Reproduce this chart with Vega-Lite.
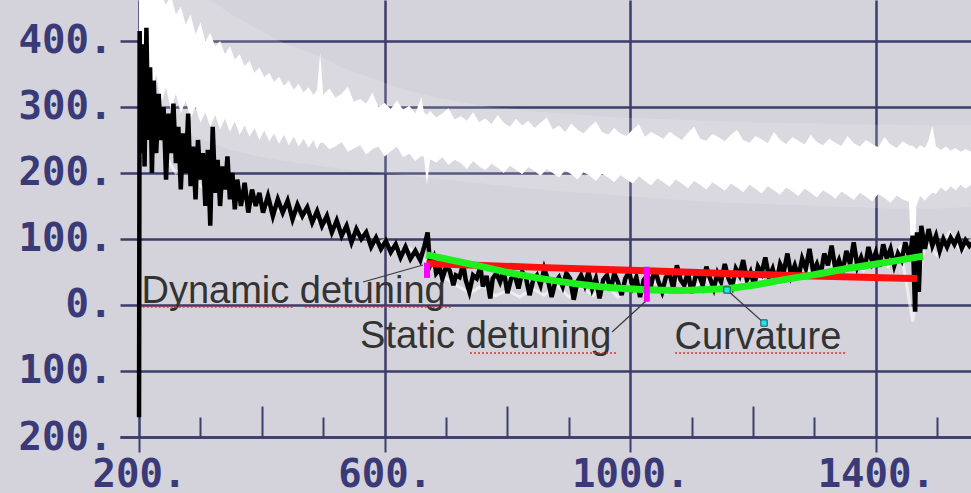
{
  "$schema": "https://vega.github.io/schema/vega-lite/v6.json",
  "width": 851,
  "height": 437,
  "autosize": {"type": "none"},
  "padding": {"left": 120, "top": 0, "right": 0, "bottom": 56},
  "background": "#d4d3db",
  "config": {"view": {"stroke": null, "fill": "#d4d3db"}},
  "datasets": {
    "env": [
      {"x":200,"v":330,"v2":470},{"x":230,"v":300,"v2":470},{"x":260,"v":270,"v2":470},{"x":290,"v":255,"v2":470},{"x":320,"v":245,"v2":460},{"x":350,"v":235,"v2":440},{"x":380,"v":228,"v2":425},{"x":410,"v":222,"v2":410},{"x":440,"v":218,"v2":395},{"x":470,"v":214,"v2":385},{"x":500,"v":210,"v2":375},{"x":530,"v":206,"v2":360},{"x":560,"v":203,"v2":350},{"x":590,"v":200,"v2":340},{"x":620,"v":198,"v2":330},{"x":650,"v":195,"v2":322},{"x":680,"v":192,"v2":315},{"x":710,"v":189,"v2":310},{"x":740,"v":186,"v2":305},{"x":770,"v":183,"v2":300},{"x":800,"v":180,"v2":298},{"x":830,"v":177,"v2":295},{"x":860,"v":175,"v2":292},{"x":890,"v":172,"v2":290},{"x":920,"v":170,"v2":288},{"x":950,"v":168,"v2":286},{"x":980,"v":166,"v2":284},{"x":1010,"v":164,"v2":283},{"x":1040,"v":162,"v2":282},{"x":1070,"v":160,"v2":281},{"x":1100,"v":158,"v2":280},{"x":1130,"v":156,"v2":279},{"x":1160,"v":155,"v2":278},{"x":1190,"v":154,"v2":277},{"x":1220,"v":153,"v2":276},{"x":1250,"v":152,"v2":276},{"x":1280,"v":151,"v2":275},{"x":1310,"v":150,"v2":275},{"x":1340,"v":149,"v2":274},{"x":1370,"v":148,"v2":274},{"x":1400,"v":147,"v2":273},{"x":1430,"v":146,"v2":273},{"x":1460,"v":146,"v2":272},{"x":1490,"v":146,"v2":272},{"x":1520,"v":147,"v2":272},{"x":1555,"v":148,"v2":272}
    ],
    "band": [
      {"x":200,"v":395,"v2":470},{"x":205,"v":340,"v2":470},{"x":212,"v":370,"v2":470},{"x":220,"v":320,"v2":470},{"x":228,"v":350,"v2":470},{"x":236,"v":305,"v2":470},{"x":244,"v":330,"v2":455},{"x":252,"v":295,"v2":470},{"x":260,"v":320,"v2":440},{"x":268,"v":290,"v2":452},{"x":276,"v":310,"v2":425},{"x":284,"v":282,"v2":440},{"x":292,"v":300,"v2":410},{"x":300,"v":276,"v2":428},{"x":308,"v":292,"v2":400},{"x":316,"v":270,"v2":412},{"x":324,"v":288,"v2":392},{"x":332,"v":266,"v2":400},{"x":340,"v":282,"v2":380},{"x":348,"v":262,"v2":392},{"x":356,"v":278,"v2":372},{"x":364,"v":258,"v2":380},{"x":372,"v":272,"v2":362},{"x":380,"v":255,"v2":370},{"x":388,"v":268,"v2":352},{"x":396,"v":250,"v2":360},{"x":404,"v":264,"v2":345},{"x":412,"v":248,"v2":352},{"x":420,"v":260,"v2":338},{"x":428,"v":244,"v2":346},{"x":436,"v":258,"v2":332},{"x":444,"v":242,"v2":340},{"x":452,"v":255,"v2":326},{"x":460,"v":240,"v2":335},{"x":468,"v":252,"v2":322},{"x":476,"v":238,"v2":330},{"x":484,"v":250,"v2":318},{"x":490,"v":236,"v2":326},{"x":495,"v":246,"v2":382},
      {"x":500,"v":246,"v2":318},{"x":510,"v":236,"v2":328},{"x":520,"v":240,"v2":314},{"x":530,"v":247,"v2":320},{"x":540,"v":232,"v2":331},{"x":550,"v":237,"v2":308},{"x":560,"v":242,"v2":312},{"x":570,"v":228,"v2":305},{"x":580,"v":236,"v2":322},{"x":590,"v":240,"v2":300},{"x":600,"v":225,"v2":306},{"x":610,"v":233,"v2":297},{"x":620,"v":240,"v2":310},{"x":630,"v":224,"v2":296},{"x":640,"v":229,"v2":302},{"x":650,"v":218,"v2":290},{"x":660,"v":226,"v2":315},{"x":664,"v":224,"v2":292},{"x":669,"v":182,"v2":288},{"x":674,"v":221,"v2":294},{"x":684,"v":216,"v2":284},{"x":694,"v":224,"v2":290},{"x":704,"v":212,"v2":298},{"x":714,"v":220,"v2":281},{"x":724,"v":215,"v2":286},{"x":734,"v":206,"v2":279},{"x":744,"v":218,"v2":292},{"x":754,"v":210,"v2":277},{"x":764,"v":204,"v2":283},{"x":774,"v":214,"v2":274},{"x":784,"v":208,"v2":288},{"x":794,"v":200,"v2":276},{"x":804,"v":211,"v2":270},{"x":814,"v":205,"v2":282},{"x":824,"v":198,"v2":272},{"x":834,"v":209,"v2":279},{"x":844,"v":203,"v2":268},{"x":854,"v":196,"v2":276},{"x":864,"v":206,"v2":284},{"x":874,"v":200,"v2":266},{"x":884,"v":193,"v2":272},{"x":894,"v":204,"v2":262},{"x":904,"v":198,"v2":275},{"x":914,"v":190,"v2":266},{"x":924,"v":201,"v2":260},{"x":934,"v":196,"v2":270},{"x":944,"v":188,"v2":278},{"x":954,"v":199,"v2":262},{"x":964,"v":193,"v2":258},{"x":974,"v":186,"v2":268},{"x":984,"v":197,"v2":260},{"x":994,"v":190,"v2":256},{"x":1004,"v":184,"v2":266},{"x":1014,"v":195,"v2":274},{"x":1024,"v":188,"v2":255},{"x":1034,"v":181,"v2":262},{"x":1044,"v":192,"v2":257},{"x":1054,"v":186,"v2":252},{"x":1064,"v":179,"v2":263},{"x":1074,"v":190,"v2":256},{"x":1084,"v":184,"v2":250},{"x":1094,"v":177,"v2":261},{"x":1104,"v":188,"v2":270},{"x":1114,"v":182,"v2":252},{"x":1124,"v":175,"v2":249},{"x":1134,"v":186,"v2":259},{"x":1144,"v":180,"v2":254},{"x":1154,"v":173,"v2":248},{"x":1164,"v":184,"v2":258},{"x":1174,"v":178,"v2":265},{"x":1184,"v":171,"v2":250},{"x":1194,"v":182,"v2":246},{"x":1204,"v":176,"v2":256},{"x":1214,"v":169,"v2":251},{"x":1224,"v":180,"v2":245},{"x":1234,"v":174,"v2":262},{"x":1244,"v":167,"v2":250},{"x":1254,"v":178,"v2":244},{"x":1264,"v":172,"v2":254},{"x":1274,"v":165,"v2":249},{"x":1284,"v":176,"v2":243},{"x":1294,"v":170,"v2":258},{"x":1304,"v":163,"v2":247},{"x":1314,"v":174,"v2":242},{"x":1324,"v":168,"v2":252},{"x":1334,"v":161,"v2":246},{"x":1344,"v":172,"v2":241},{"x":1354,"v":166,"v2":256},{"x":1364,"v":159,"v2":245},{"x":1374,"v":170,"v2":240},{"x":1384,"v":164,"v2":250},{"x":1394,"v":157,"v2":244},{"x":1404,"v":168,"v2":239},{"x":1414,"v":162,"v2":254},{"x":1424,"v":155,"v2":243},{"x":1434,"v":166,"v2":238},{"x":1444,"v":160,"v2":248},{"x":1454,"v":156,"v2":242},
      {"x":1462,"v":-15,"v2":240},{"x":1466,"v":150,"v2":236},{"x":1472,"v":165,"v2":242},{"x":1480,"v":158,"v2":238},{"x":1486,"v":165,"v2":250},{"x":1492,"v":170,"v2":272},{"x":1498,"v":168,"v2":240},{"x":1506,"v":178,"v2":235},{"x":1514,"v":172,"v2":240},{"x":1522,"v":180,"v2":234},{"x":1530,"v":174,"v2":238},{"x":1538,"v":182,"v2":232},{"x":1546,"v":176,"v2":236},{"x":1555,"v":182,"v2":232}
    ],
    "fringe": [
      {"x":240,"v":230},{"x":260,"v":200},{"x":280,"v":215},{"x":300,"v":180},{"x":320,"v":170},{"x":340,"v":185},{"x":360,"v":160},{"x":380,"v":150},{"x":400,"v":158},{"x":420,"v":140},{"x":440,"v":148},{"x":460,"v":130},{"x":480,"v":138},{"x":500,"v":118},{"x":520,"v":125},{"x":540,"v":105},{"x":560,"v":112},{"x":580,"v":92},{"x":600,"v":98},{"x":620,"v":80},{"x":640,"v":86},{"x":660,"v":72},{"x":680,"v":55},{"x":700,"v":40},{"x":720,"v":28},{"x":740,"v":18},{"x":760,"v":30},{"x":780,"v":14},{"x":800,"v":22},{"x":820,"v":12},{"x":840,"v":25},{"x":860,"v":15},{"x":880,"v":30},{"x":900,"v":12},{"x":920,"v":28},{"x":940,"v":14},{"x":960,"v":32},{"x":980,"v":12},{"x":1000,"v":30},{"x":1020,"v":15},{"x":1040,"v":35},{"x":1060,"v":18},{"x":1080,"v":40},{"x":1100,"v":20},{"x":1120,"v":42},{"x":1140,"v":24},{"x":1160,"v":48},{"x":1180,"v":28},{"x":1200,"v":52},{"x":1220,"v":32},{"x":1240,"v":58},{"x":1260,"v":38},{"x":1280,"v":62},{"x":1300,"v":42},{"x":1320,"v":70},{"x":1340,"v":48},{"x":1360,"v":75},{"x":1380,"v":52},{"x":1400,"v":82},{"x":1420,"v":58},{"x":1440,"v":88},{"x":1460,"v":-25},{"x":1480,"v":95},{"x":1500,"v":75},{"x":1520,"v":110},{"x":1540,"v":80},{"x":1555,"v":100}
    ],
    "black": [
      {"x":200,"v":-170},{"x":201,"v":415},{"x":204,"v":230},{"x":206,"v":395},{"x":209,"v":210},{"x":212,"v":420},{"x":215,"v":250},{"x":218,"v":360},{"x":221,"v":200},{"x":224,"v":340},{"x":228,"v":230},{"x":232,"v":320},{"x":236,"v":250},{"x":240,"v":300},{"x":244,"v":190},{"x":248,"v":290},{"x":252,"v":230},{"x":256,"v":305},{"x":260,"v":215},{"x":264,"v":270},{"x":268,"v":175},{"x":272,"v":260},{"x":276,"v":200},{"x":280,"v":290},{"x":284,"v":180},{"x":288,"v":240},{"x":292,"v":160},{"x":296,"v":250},{"x":300,"v":190},{"x":304,"v":230},{"x":308,"v":150},{"x":312,"v":235},{"x":316,"v":120},{"x":320,"v":270},{"x":324,"v":170},{"x":328,"v":220},{"x":332,"v":150},{"x":336,"v":210},{"x":340,"v":175},{"x":344,"v":225},{"x":348,"v":160},{"x":352,"v":200},{"x":356,"v":145},{"x":360,"v":190},{"x":366,"v":150},{"x":372,"v":185},{"x":378,"v":140},{"x":384,"v":175},{"x":390,"v":150},{"x":396,"v":170},{"x":402,"v":140},{"x":410,"v":165},{"x":418,"v":135},{"x":426,"v":160},{"x":434,"v":140},{"x":442,"v":158},{"x":450,"v":130},{"x":458,"v":152},{"x":466,"v":135},{"x":474,"v":148},{"x":482,"v":125},{"x":490,"v":142},{"x":498,"v":120},{"x":506,"v":135},{"x":514,"v":110},{"x":522,"v":128},{"x":530,"v":105},{"x":538,"v":120},{"x":546,"v":95},{"x":554,"v":115},{"x":562,"v":100},{"x":570,"v":110},{"x":578,"v":88},{"x":586,"v":102},{"x":594,"v":85},{"x":602,"v":97},{"x":610,"v":80},{"x":618,"v":92},{"x":626,"v":72},{"x":634,"v":88},{"x":642,"v":70},{"x":650,"v":82},{"x":658,"v":68},{"x":665,"v":90},{"x":670,"v":110},
      {"x":674,"v":60},{"x":680,"v":72},{"x":684,"v":48},{"x":690,"v":55},{"x":694,"v":40},{"x":700,"v":58},{"x":706,"v":52},{"x":712,"v":30},{"x":716,"v":45},{"x":722,"v":42},{"x":728,"v":62},{"x":732,"v":38},{"x":738,"v":20},{"x":744,"v":45},{"x":750,"v":40},{"x":756,"v":58},{"x":760,"v":28},{"x":766,"v":44},{"x":772,"v":10},{"x":776,"v":40},{"x":782,"v":48},{"x":788,"v":35},{"x":794,"v":52},{"x":800,"v":18},{"x":806,"v":40},{"x":812,"v":45},{"x":818,"v":25},{"x":824,"v":50},{"x":830,"v":42},{"x":836,"v":15},{"x":842,"v":38},{"x":848,"v":45},{"x":854,"v":30},{"x":860,"v":55},{"x":866,"v":38},{"x":872,"v":12},{"x":878,"v":35},{"x":884,"v":42},{"x":890,"v":28},{"x":896,"v":48},{"x":902,"v":40},{"x":908,"v":8},{"x":914,"v":35},{"x":920,"v":45},{"x":926,"v":30},{"x":932,"v":50},{"x":938,"v":25},{"x":944,"v":40},{"x":950,"v":10},{"x":956,"v":38},{"x":962,"v":45},{"x":968,"v":22},{"x":974,"v":48},{"x":980,"v":35},{"x":986,"v":15},{"x":992,"v":40},{"x":998,"v":50},{"x":1004,"v":28},{"x":1010,"v":42},{"x":1016,"v":12},{"x":1022,"v":38},{"x":1028,"v":45},{"x":1034,"v":30},{"x":1040,"v":55},{"x":1046,"v":35},{"x":1052,"v":20},{"x":1058,"v":42},{"x":1064,"v":48},{"x":1070,"v":25},{"x":1076,"v":60},{"x":1082,"v":38},{"x":1088,"v":30},{"x":1094,"v":50},{"x":1100,"v":18},{"x":1106,"v":42},{"x":1112,"v":46},{"x":1118,"v":30},{"x":1124,"v":58},{"x":1130,"v":40},{"x":1136,"v":25},{"x":1142,"v":48},{"x":1148,"v":35},{"x":1154,"v":62},{"x":1160,"v":40},{"x":1166,"v":28},{"x":1172,"v":55},{"x":1178,"v":45},{"x":1184,"v":68},{"x":1190,"v":38},{"x":1196,"v":50},{"x":1202,"v":30},{"x":1208,"v":58},{"x":1214,"v":48},{"x":1220,"v":72},{"x":1226,"v":42},{"x":1232,"v":55},{"x":1238,"v":35},{"x":1244,"v":62},{"x":1250,"v":50},{"x":1256,"v":78},{"x":1262,"v":45},{"x":1268,"v":60},{"x":1274,"v":42},{"x":1280,"v":70},{"x":1286,"v":55},{"x":1292,"v":85},{"x":1298,"v":50},{"x":1304,"v":62},{"x":1310,"v":45},{"x":1316,"v":78},{"x":1322,"v":60},{"x":1328,"v":90},{"x":1334,"v":55},{"x":1340,"v":68},{"x":1346,"v":50},{"x":1352,"v":82},{"x":1358,"v":62},{"x":1364,"v":95},{"x":1370,"v":58},{"x":1376,"v":72},{"x":1382,"v":55},{"x":1388,"v":88},{"x":1394,"v":65},{"x":1400,"v":80},{"x":1406,"v":58},{"x":1412,"v":92},{"x":1418,"v":70},{"x":1424,"v":85},{"x":1430,"v":60},{"x":1436,"v":78},{"x":1442,"v":68},{"x":1448,"v":95},{"x":1455,"v":70},
      {"x":1460,"v":105},{"x":1464,"v":-10},{"x":1467,"v":110},{"x":1470,"v":20},{"x":1474,"v":120},{"x":1480,"v":85},{"x":1486,"v":115},{"x":1492,"v":90},{"x":1498,"v":105},{"x":1504,"v":82},{"x":1510,"v":100},{"x":1516,"v":88},{"x":1522,"v":102},{"x":1528,"v":92},{"x":1534,"v":104},{"x":1540,"v":86},{"x":1546,"v":98},{"x":1552,"v":90},{"x":1555,"v":95}
    ],
    "red": [
      {"x":668,"v":63},{"x":850,"v":57},{"x":1027,"v":52},{"x":1248,"v":45},{"x":1467,"v":40}
    ],
    "green": [
      {"x":668,"v":76},{"x":740,"v":62},{"x":808,"v":48},{"x":890,"v":35},{"x":971,"v":26},{"x":1027,"v":23},{"x":1080,"v":22},{"x":1113,"v":23},{"x":1157,"v":25},{"x":1200,"v":30},{"x":1248,"v":38},{"x":1300,"v":46},{"x":1358,"v":56},{"x":1420,"v":65},{"x":1477,"v":74}
    ],
    "magenta": [
      {"x":669,"v":64,"v2":41},{"x":1027,"v":58,"v2":5}
    ],
    "leaders": [
      {"id":"a","x":662.5,"v":60.6},{"id":"a","x":564.8,"v":34.8},
      {"id":"b","x":1027.4,"v":7.6},{"id":"b","x":970.4,"v":-40.9},
      {"id":"c","x":1157.6,"v":22.7},{"id":"c","x":1217.9,"v":-27.3}
    ],
    "cyan": [
      {"x":1157.6,"v":22.7},{"x":1217.9,"v":-27.3}
    ],
    "notes": [
      {"x":204,"v":3,"t":"Dynamic detuning"},
      {"x":560,"v":-65,"t":"Static detuning"},
      {"x":1072,"v":-67,"t":"Curvature"}
    ],
    "squiggles": [
      {"x":206,"x2":451,"v":-3},{"x":470,"x2":711,"v":-3},{"x":739,"x2":978,"v":-72.7},{"x":1073,"x2":1353,"v":-72.7}
    ]
  },
  "encoding": {
    "x": {
      "field": "x", "type": "quantitative",
      "scale": {"domain": [169, 1555], "nice": false, "zero": false},
      "axis": {
        "title": null,
        "values": [200,300,400,500,600,700,800,900,1000,1100,1200,1300,1400,1500],
        "grid": true, "gridColor": "#3d3d6b", "gridWidth": 2.5,
        "gridOpacity": {"condition": {"test": "datum.value % 400 === 200", "value": 1}, "value": 0},
        "tickSize": {"condition": [{"test": "datum.value % 400 === 200", "value": 15}, {"test": "datum.value % 400 === 0", "value": -31}], "value": -20},
        "tickColor": "#3d3d6b", "tickWidth": 2,
        "domainColor": "#3d3d6b", "domainWidth": 2.5,
        "labelExpr": "datum.value % 400 === 200 ? datum.value + '.' : ''",
        "labelFont": "DejaVu Sans Mono", "labelFontWeight": "bold", "labelFontSize": 39, "labelColor": "#3a3a78",
        "labelPadding": 3, "labelOverlap": false, "labelFlush": false
      }
    },
    "y": {
      "field": "v", "type": "quantitative",
      "scale": {"domain": [-200, 462.1], "nice": false, "zero": false},
      "axis": {
        "title": null,
        "values": [-200,-100,0,100,200,300,400],
        "grid": true, "gridColor": "#3d3d6b", "gridWidth": 2.5,
        "ticks": false, "domain": false,
        "labelExpr": "abs(datum.value) + '.'",
        "labelFont": "DejaVu Sans Mono", "labelFontWeight": "bold", "labelFontSize": 39, "labelColor": "#3a3a78",
        "labelPadding": 8, "labelBaseline": "middle", "labelOverlap": false, "labelFlush": false
      }
    }
  },
  "layer": [
    {"data": {"name": "env"}, "mark": {"type": "area", "color": "#ffffff", "opacity": 0.15, "clip": true}, "encoding": {"y2": {"field": "v2"}}},
    {"data": {"name": "band"}, "mark": {"type": "area", "color": "#ffffff", "clip": true}, "encoding": {"y2": {"field": "v2"}}},
    {"data": {"name": "fringe"}, "mark": {"type": "line", "color": "#ffffff", "strokeWidth": 3, "opacity": 0.6, "clip": true}, "encoding": {}},
    {"data": {"name": "black"}, "mark": {"type": "line", "color": "#000000", "strokeWidth": 4.5, "strokeJoin": "miter", "clip": true}, "encoding": {}},
    {"data": {"name": "red"}, "mark": {"type": "line", "color": "#ff1010", "strokeWidth": 7, "interpolate": "monotone", "clip": true}, "encoding": {}},
    {"data": {"name": "green"}, "mark": {"type": "line", "color": "#1fee1f", "strokeWidth": 7, "interpolate": "monotone", "clip": true}, "encoding": {}},
    {"data": {"name": "leaders"}, "mark": {"type": "line", "color": "#3a3a3a", "strokeWidth": 1.2}, "encoding": {"detail": {"field": "id"}}},
    {"data": {"name": "magenta"}, "mark": {"type": "rule", "color": "#ff00ff", "strokeWidth": 6}, "encoding": {"y2": {"field": "v2"}}},
    {"data": {"name": "cyan"}, "mark": {"type": "point", "shape": "square", "size": 40, "filled": true, "fill": "#1ee6ee", "stroke": "#2a4a4a", "strokeWidth": 1, "opacity": 1}, "encoding": {}},
    {"data": {"name": "notes"}, "mark": {"type": "text", "align": "left", "baseline": "alphabetic", "font": "Liberation Sans", "fontSize": 38, "color": "#333333"}, "encoding": {"text": {"field": "t"}}},
    {"data": {"name": "squiggles"}, "mark": {"type": "rule", "color": "#e03030", "strokeWidth": 1.5, "strokeDash": [2, 2]}, "encoding": {"x2": {"field": "x2"}}}
  ]
}
